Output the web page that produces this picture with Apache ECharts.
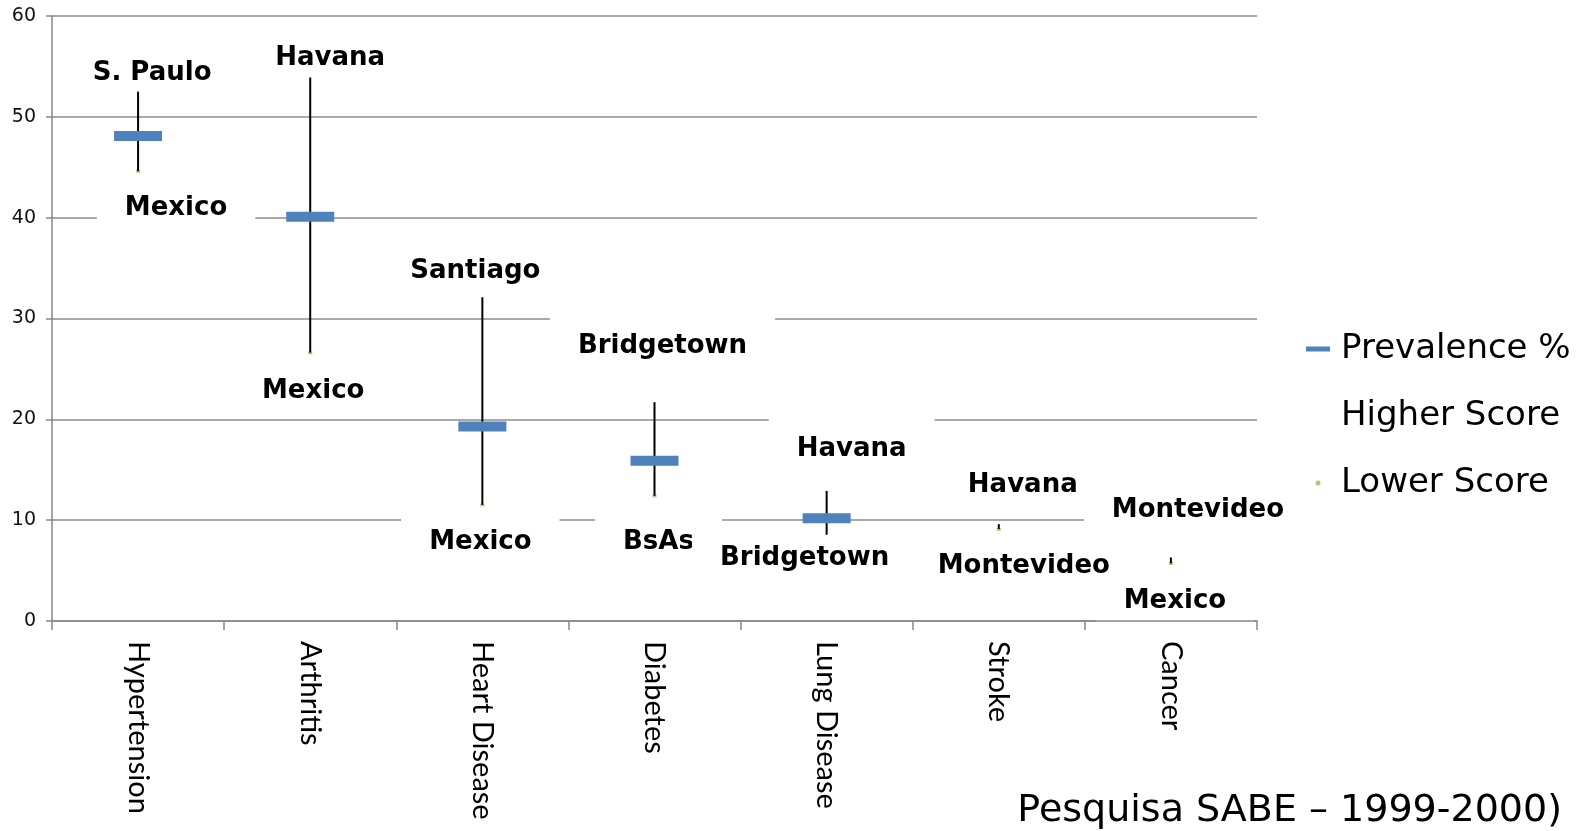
<!DOCTYPE html>
<html>
<head>
<meta charset="utf-8">
<script src="https://cdn.jsdelivr.net/npm/echarts@6/dist/echarts.min.js"></script>
<style>html,body{margin:0;padding:0;background:#fff;}#c{width:1581px;height:831px;}</style>
</head>
<body>
<div id="c"></div>
<script>
const categories = ['Hypertension', 'Arthritis', 'Heart Disease', 'Diabetes', 'Lung Disease', 'Stroke', 'Cancer'];
const prevalence = [48.1, 40.1, 19.3, 15.9, 10.2, null, null];
const higherScore = [52.5, 53.9, 32.1, 21.7, 12.9, 9.6, 6.3];
const lowerScore = [44.6, 26.6, 11.5, 12.4, 4.2, 9.1, 5.7];
const higherCity = ['S. Paulo', 'Havana', 'Santiago', 'Bridgetown', 'Havana', 'Havana', 'Montevideo'];
const lowerCity = ['Mexico', 'Mexico', 'Mexico', 'BsAs', 'Bridgetown', 'Montevideo', 'Mexico'];
const yTicks = [0, 10, 20, 30, 40, 50, 60];

// label placement (layout only)
const highLabelShift = [[14, -18], [20, -19], [-7, -26], [8, -56], [25, -42], [24, -39], [27, -47]];
const lowLabelShift = [[38, 37], [3, 38], [-2, 37], [4, 46], [-22, -20], [25, 37], [4, 38]];

const chart = echarts.init(document.getElementById('c'), null, {renderer: 'canvas'});
const labelFont = {fontFamily: 'DejaVu Sans', fontWeight: 'bold', fontSize: 26, lineHeight: 30, color: '#000000',
  opacity: 1, textBorderWidth: 0, textBorderColor: 'transparent', backgroundColor: '#fff'};

function labelData(vals, names, shifts, pad) {
  return categories.map((c, i) => ({
    value: [c, vals[i]],
    label: Object.assign({show: true, position: 'inside', offset: shifts[i], formatter: names[i], padding: pad}, labelFont)
  }));
}

const option = {
  backgroundColor: '#fff',
  animation: false,
  title: {
    text: 'Pesquisa SABE – 1999-2000)',
    right: 14, top: 787,
    textStyle: {fontFamily: 'DejaVu Sans', fontWeight: 'normal', fontSize: 38, color: '#000'}
  },
  legend: {
    orient: 'vertical', left: 1301, top: 324, z: 10,
    itemWidth: 24, itemHeight: 5, itemGap: 27,
    textStyle: {fontFamily: 'DejaVu Sans', fontSize: 34, lineHeight: 40, color: '#000', padding: [0, 0, 0, 6]},
    data: [
      {name: 'Prevalence %', icon: 'rect', itemStyle: {color: '#4F81BD'}},
      {name: 'Higher Score', icon: 'rect', itemStyle: {color: 'rgba(0,0,0,0)'}},
      {name: 'Lower Score', icon: 'circle', itemStyle: {color: '#9BBB59'}}
    ]
  },
  grid: {left: 52, right: 324, top: 16, bottom: 210},
  xAxis: {
    type: 'category', data: categories, boundaryGap: true, z: 6,
    axisLine: {lineStyle: {color: '#868686', width: 1.5}},
    axisTick: {show: true, length: 9, lineStyle: {color: '#868686', width: 1.5}},
    axisLabel: {rotate: -90, margin: 20, fontFamily: 'Lato', fontSize: 29, color: '#000'}
  },
  yAxis: {
    type: 'value', min: yTicks[0], max: yTicks[yTicks.length - 1], interval: 10,
    axisLine: {show: true, lineStyle: {color: '#868686', width: 1.5}},
    axisTick: {show: true, length: 6, lineStyle: {color: '#868686', width: 1.5}},
    axisLabel: {margin: 16, fontFamily: 'DejaVu Sans', fontSize: 19, color: '#111'},
    splitLine: {lineStyle: {color: '#8c8c8c', width: 1.5}}
  },
  series: [
    {
      name: 'Lower Score', type: 'scatter', z: 1,
      symbol: 'rect', symbolSize: [4, 3],
      itemStyle: {color: '#9BBB59'},
      data: categories.map((c, i) => [c, lowerScore[i]])
    },
    {
      name: 'Higher Score', type: 'scatter', z: 1.5,
      symbolSize: 1, itemStyle: {color: '#fff'},
      label: {show: true, color: '#000000', opacity: 1},
      data: labelData(higherScore, higherCity, highLabelShift, [16, 28, 16, 28])
    },
    {
      name: 'hilo', type: 'custom', z: 2,
      renderItem: function (params, api) {
        const hi = api.coord([api.value(0), api.value(1)]);
        const lo = api.coord([api.value(0), api.value(2)]);
        return {type: 'line', shape: {x1: hi[0], y1: hi[1], x2: lo[0], y2: lo[1]},
          style: {stroke: '#000', lineWidth: 2}};
      },
      encode: {x: 0, y: [1, 2]},
      data: categories.map((c, i) => [i, higherScore[i], lowerScore[i]])
    },
    {
      name: 'Prevalence %', type: 'custom', z: 3,
      itemStyle: {color: '#4F81BD'},
      renderItem: function (params, api) {
        const p = api.coord([api.value(0), api.value(1)]);
        return {type: 'rect', shape: {x: p[0] - 24, y: p[1] - 5, width: 48, height: 10},
          style: {fill: '#4F81BD'}};
      },
      encode: {x: 0, y: 1},
      data: categories.map((c, i) => [i, prevalence[i]]).filter(d => d[1] !== null)
    },
    {
      name: 'lowLabels', type: 'scatter', z: 5,
      symbolSize: 1, itemStyle: {color: '#fff'},
      label: {show: true, color: '#000000', opacity: 1},
      data: labelData(lowerScore, lowerCity, lowLabelShift, [9, 28, 9, 28])
    }
  ]
};
chart.setOption(option);
</script>
</body>
</html>
